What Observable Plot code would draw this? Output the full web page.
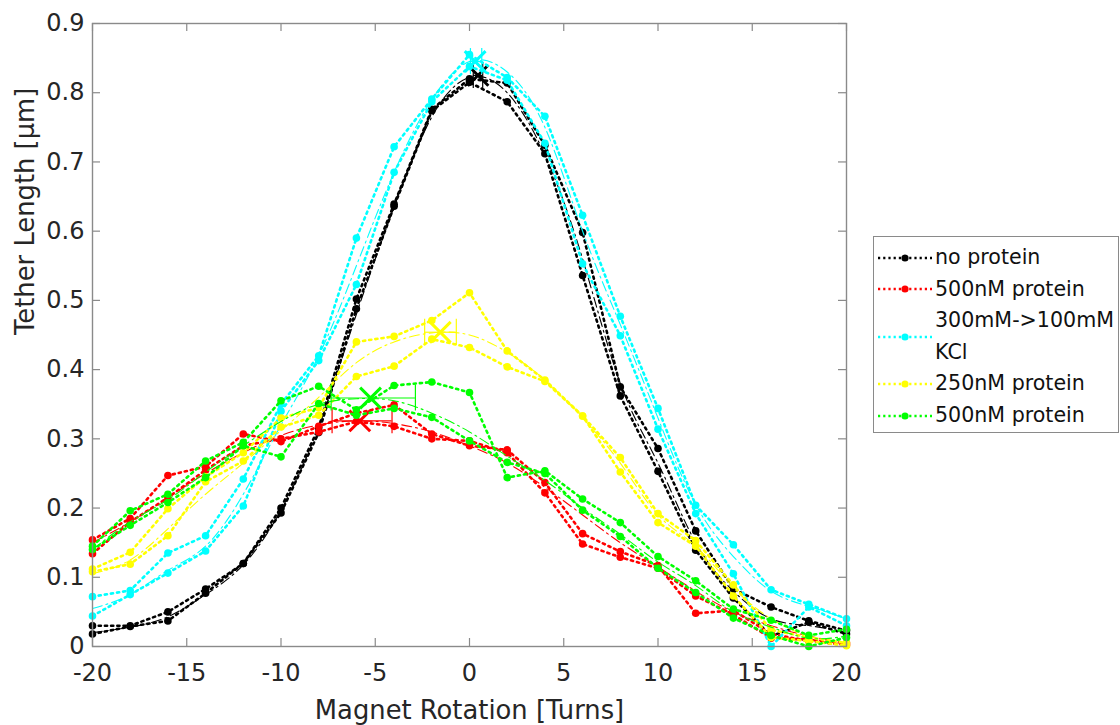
<!DOCTYPE html>
<html><head><meta charset="utf-8">
<script src="https://cdn.jsdelivr.net/npm/d3@7"></script>
<script src="https://cdn.jsdelivr.net/npm/@observablehq/plot@0.6"></script>
<style>
body{margin:0;background:#fff;}
#wrap{position:relative;width:1120px;height:725px;}
#legend{position:absolute;left:873px;top:236px;width:246px;height:197px;border:1.3px solid #8a8a8a;box-sizing:border-box;background:#fff;padding-top:5px;font-family:"DejaVu Sans";font-size:20.6px;color:#111;white-space:nowrap;}
.entry{display:flex;align-items:center;line-height:31.6px;}
.entry svg{margin-left:4px;margin-right:3px;flex:none;}
</style></head><body><div id="wrap"></div>
<script>
const turns = [-20,-18,-16,-14,-12,-10,-8,-6,-4,-2,0,2,4,6,8,10,12,14,16,18,20];
const seriesNames = ["no protein","500nM protein","300mM->100mM KCl","250nM protein","500nM protein"];
const seriesColors = ["#000000","#ff0000","#00ffff","#ffff00","#00ff00"];

const noProteinA = [0.030,0.030,0.050,0.083,0.120,0.200,0.316,0.502,0.639,0.776,0.820,0.814,0.724,0.598,0.375,0.286,0.167,0.083,0.057,0.037,0.023];
const noProteinB = [0.018,0.029,0.037,0.077,0.120,0.193,0.309,0.488,0.636,0.774,0.815,0.787,0.712,0.536,0.362,0.253,0.139,0.070,0.015,0.035,0.018];
const red500A = [0.154,0.185,0.247,0.260,0.307,0.296,0.318,0.337,0.349,0.307,0.290,0.284,0.237,0.163,0.137,0.117,0.048,0.052,0.018,0.008,0.002];
const red500B = [0.134,0.180,0.215,0.255,0.290,0.300,0.310,0.325,0.318,0.300,0.297,0.280,0.222,0.148,0.129,0.113,0.073,0.046,0.012,0.010,0.005];
const kclA = [0.072,0.081,0.135,0.160,0.242,0.350,0.420,0.590,0.722,0.791,0.855,0.822,0.766,0.623,0.477,0.344,0.204,0.147,0.082,0.061,0.040];
const kclB = [0.044,0.075,0.106,0.138,0.203,0.340,0.413,0.523,0.685,0.787,0.838,0.818,0.727,0.553,0.449,0.314,0.192,0.105,0.000,0.057,0.030];
const yellow250A = [0.112,0.136,0.199,0.245,0.280,0.330,0.345,0.440,0.448,0.471,0.511,0.427,0.385,0.333,0.273,0.192,0.153,0.089,0.024,0.013,0.005];
const yellow250B = [0.108,0.119,0.160,0.238,0.268,0.317,0.334,0.390,0.405,0.444,0.432,0.404,0.383,0.333,0.252,0.179,0.145,0.073,0.013,0.008,0.001];
const green500A = [0.145,0.196,0.220,0.268,0.295,0.355,0.376,0.342,0.377,0.382,0.367,0.244,0.254,0.213,0.179,0.130,0.095,0.054,0.038,0.016,0.025];
const green500B = [0.140,0.175,0.208,0.244,0.290,0.274,0.351,0.334,0.344,0.331,0.297,0.266,0.250,0.197,0.159,0.113,0.078,0.041,0.016,0.000,0.013];

const noProteinFit = [0.020,0.028,0.043,0.075,0.118,0.197,0.318,0.480,0.635,0.765,0.822,0.800,0.710,0.560,0.380,0.265,0.150,0.080,0.040,0.030,0.020];
const red500Fit = [0.150,0.180,0.215,0.250,0.280,0.305,0.320,0.326,0.322,0.310,0.290,0.265,0.230,0.190,0.150,0.115,0.080,0.050,0.030,0.015,0.005];
const kclFit = [0.055,0.075,0.110,0.145,0.220,0.320,0.420,0.550,0.685,0.790,0.845,0.830,0.750,0.600,0.465,0.330,0.205,0.130,0.080,0.058,0.040];
const yellow250Fit = [0.105,0.125,0.170,0.220,0.265,0.312,0.360,0.410,0.440,0.453,0.450,0.425,0.385,0.330,0.265,0.190,0.145,0.085,0.040,0.015,0.005];
const green500Fit = [0.140,0.180,0.212,0.252,0.290,0.325,0.350,0.358,0.355,0.337,0.310,0.275,0.240,0.200,0.162,0.122,0.088,0.050,0.028,0.012,0.015];

const peakTurns  = [0.45, -5.82, 0.30, -1.55, -5.25];
const peakLength = [0.825, 0.326, 0.845, 0.454, 0.359];
const peakLo     = [0.20, -7.29, 0.05, -2.38, -7.34];
const peakHi     = [0.70, -4.11, 0.65, -0.70, -2.87];

const xTicks = [-20,-15,-10,-5,0,5,10,15,20];
const yTicks = [0,0.1,0.2,0.3,0.4,0.5,0.6,0.7,0.8,0.9];
const xLabel = "Magnet Rotation [Turns]";
const yLabel = "Tether Length [µm]";

const traceSets = [[noProteinA,noProteinB],[red500A,red500B],[kclA,kclB],[yellow250A,yellow250B],[green500A,green500B]];
const fitSets = [noProteinFit, red500Fit, kclFit, yellow250Fit, green500Fit];

const W = 1120, H = 725, mL = 92, mR = 274, mT = 23, mB = 79;
const xDom = [-20,20], yDom = [0,0.9];
const innerW = W - mL - mR, innerH = H - mT - mB;
const pxX = (xDom[1]-xDom[0]) / innerW, pxY = (yDom[1]-yDom[0]) / innerH;
const tickLen = 8, capPx = 13;

const marks = [];
seriesNames.forEach((name, s) => {
  const color = seriesColors[s];
  const rows = [];
  traceSets[s].forEach((arr, t) => arr.forEach((v, i) => rows.push({x: turns[i], y: v, t})));
  const fit = fitSets[s].map((v, i) => ({x: turns[i], y: v}));
  const pk = [{x: peakTurns[s], y: peakLength[s], lo: peakLo[s], hi: peakHi[s]}];
  marks.push(
    Plot.line(rows, {x: "x", y: "y", z: "t", stroke: color, strokeWidth: 2.6, strokeDasharray: "2.2,4"}),
    Plot.dot(rows, {x: "x", y: "y", r: 3.8, fill: color, stroke: "none"}),
    Plot.line(fit, {x: "x", y: "y", curve: "natural", stroke: color, strokeWidth: 1.1, strokeDasharray: "10,4,2,4"}),
    Plot.ruleY(pk, {y: "y", x1: "lo", x2: "hi", stroke: color, strokeWidth: 1.2}),
    Plot.ruleX(pk, {x: "lo", y1: d => d.y - capPx*pxY, y2: d => d.y + capPx*pxY, stroke: color, strokeWidth: 1.2}),
    Plot.ruleX(pk, {x: "hi", y1: d => d.y - capPx*pxY, y2: d => d.y + capPx*pxY, stroke: color, strokeWidth: 1.2}),
    Plot.dot(pk, {x: "x", y: "y", symbol: "times", r: 9.5, stroke: color, strokeWidth: 3})
  );
});

const axisColor = "#8a8a8a";
const chart = Plot.plot({
  width: W, height: H,
  marginLeft: mL, marginRight: mR, marginTop: mT, marginBottom: mB,
  x: {domain: xDom},
  y: {domain: yDom},
  style: {fontFamily: "DejaVu Sans", background: "#fff", color: "#262626"},
  marks: [
    ...marks,
    Plot.ruleX(xTicks, {x: d => d, y1: yDom[0], y2: yDom[0] + tickLen*pxY, stroke: axisColor, strokeWidth: 1.2}),
    Plot.ruleX(xTicks, {x: d => d, y1: yDom[1], y2: yDom[1] - tickLen*pxY, stroke: axisColor, strokeWidth: 1.2}),
    Plot.ruleY(yTicks, {y: d => d, x1: xDom[0], x2: xDom[0] + tickLen*pxX, stroke: axisColor, strokeWidth: 1.2}),
    Plot.ruleY(yTicks, {y: d => d, x1: xDom[1], x2: xDom[1] - tickLen*pxX, stroke: axisColor, strokeWidth: 1.2}),
    Plot.frame({stroke: axisColor, strokeWidth: 1.4}),
    Plot.axisX({ticks: xTicks, tickSize: 0, tickPadding: 9, dy: 8, tickFormat: d => String(d), fontSize: 24, label: null, fill: "#262626"}),
    Plot.axisY({ticks: yTicks, tickSize: 0, tickPadding: 8, tickFormat: d => String(d), fontSize: 24, label: null, fill: "#262626"}),
    Plot.text([xLabel], {frameAnchor: "bottom", dy: 72, fontSize: 25.8, fill: "#262626", text: d => d}),
    Plot.text([yLabel], {frameAnchor: "left", rotate: -90, dx: -67, fontSize: 25.8, fill: "#262626", text: d => d})
  ]
});
const wrap = document.getElementById("wrap");
wrap.appendChild(chart);

// legend
const legend = document.createElement("div");
legend.id = "legend";
seriesNames.forEach((name, s) => {
  const e = document.createElement("div");
  e.className = "entry";
  const ns = "http://www.w3.org/2000/svg";
  const svg = document.createElementNS(ns, "svg");
  svg.setAttribute("width", 54); svg.setAttribute("height", 10);
  const ln = document.createElementNS(ns, "line");
  ln.setAttribute("x1", 0); ln.setAttribute("x2", 54); ln.setAttribute("y1", 5); ln.setAttribute("y2", 5);
  ln.setAttribute("stroke", seriesColors[s]); ln.setAttribute("stroke-width", 2.4); ln.setAttribute("stroke-dasharray", "2.2,3");
  const c = document.createElementNS(ns, "circle");
  c.setAttribute("cx", 27); c.setAttribute("cy", 5); c.setAttribute("r", 3.6); c.setAttribute("fill", seriesColors[s]);
  svg.appendChild(ln); svg.appendChild(c);
  const t = document.createElement("div");
  if (name.indexOf("KCl") >= 0) {
    t.innerHTML = name.replace(" KCl", "<br>KCl").replace("->", "-&gt;");
  } else t.textContent = name;
  e.appendChild(svg); e.appendChild(t);
  legend.appendChild(e);
});
wrap.appendChild(legend);
</script></body></html>
